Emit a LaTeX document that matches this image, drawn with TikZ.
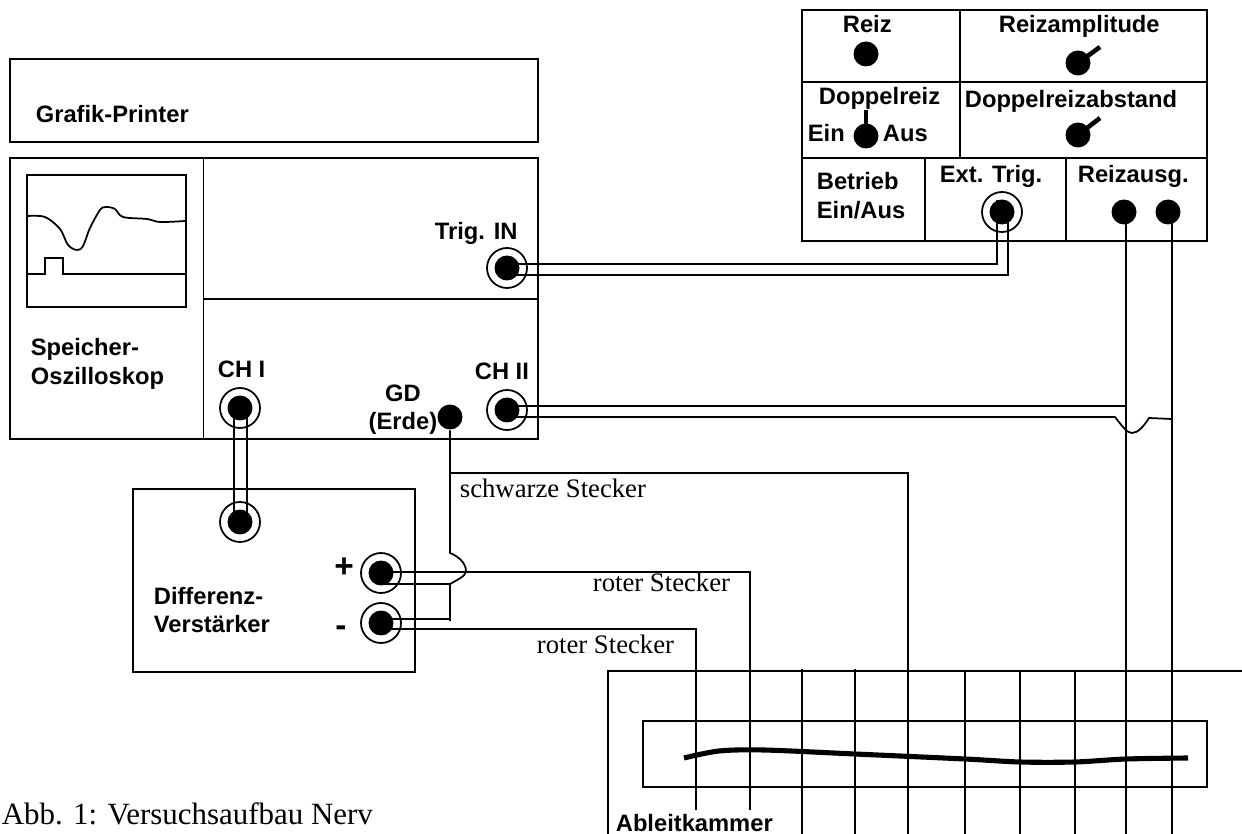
\documentclass[tikz,border=0pt]{standalone}
\usepackage{fontspec}
\setmainfont{Liberation Sans}
\newfontfamily\serifkapt{Liberation Serif}
\usetikzlibrary{calc}

\begin{document}
\begin{tikzpicture}[
        x=0.02cm, y=-0.02cm,
        line width=1pt,
        jack/.style={circle, draw=black, fill=white, inner sep=0pt, minimum size=0.8cm},
        knob/.style={circle, fill=black, inner sep=0pt, minimum size=0.5cm},
        label_txt/.style={anchor=base west, inner sep=0pt, font=\fontsize{13.5}{16}\selectfont\bfseries},
        plug_txt/.style={anchor=base west, inner sep=0pt, font=\fontsize{15.2}{18}\selectfont\serifkapt},
        sign_txt/.style={anchor=center, inner sep=0pt, font=\fontsize{19}{21}\selectfont\bfseries},
        wire/.style={draw, black},
        pointer/.style={draw, black, line width=2.6pt}
    ]
    \useasboundingbox (0,0) rectangle (1242,834);

    % ================= GRAFIK-PRINTER =================
    \draw (10,59) rectangle (538,142);
    \node[label_txt] (printerlbl) at (35,123) {Grafik-Printer};

    % ================= OSZILLOSKOP =================
    \draw (10,158) rectangle (538,439);
    \draw (203.5,158) -- (203.5,439);
    \draw (203.5,299) -- (538,299);
    \draw (27,175) rectangle (186,307);
    \draw (27,274) -- (45,274) -- (45,258) -- (63,258) -- (63,274) -- (186,274);
    \draw plot[smooth, tension=0.55] coordinates {(28,216) (45,217) (60,229) (68,245) (77,250) (83,246) (90,228) (100,210) (106,207) (115,209) (123,217) (147,219) (160,222) (185,221)};

    \node[label_txt] (osclbl1) at (30,356) {Speicher-};
    \node[label_txt] (osclbl2) at (30,385) {Oszilloskop};
    \node[label_txt] (triglbl) at (434,240) {Trig. IN};
    \node[label_txt] (ch1lbl) at (217,378) {CH I};
    \node[label_txt] (ch2lbl) at (474,380) {CH II};
    \node[label_txt, anchor=base] (gdlbl) at (403,402) {GD};
    \node[label_txt, anchor=base] (erdelbl) at (403,430) {(Erde)};

    \node[jack] (trigjack) at (507,268) {};
    \node[jack] (ch2jack) at (507,410) {};
    \node[jack] (ch1jack) at (240,408) {};

    % ================= DIFFERENZ-VERSTAERKER =================
    \draw (133,489) rectangle (415,672);
    \node[label_txt] (amplbl1) at (153,605) {Differenz-};
    \node[label_txt] (amplbl2) at (153,633) {Verstärker};
    \node[sign_txt] (pluslbl) at (344,568) {+};
    \node[sign_txt] (minuslbl) at (341,631) {-};

    \node[jack] (ampjack) at (240,522) {};
    \node[jack] (plusjack) at (381,573) {};
    \node[jack] (minusjack) at (381,623) {};

    % ================= REIZGERAET =================
    \draw (802,10) rectangle (1207,241);
    \draw (802,82) -- (1207,82);
    \draw (802,158) -- (1207,158);
    \draw (960,10) -- (960,158);
    \draw (925,158) -- (925,241);
    \draw (1066,158) -- (1066,241);

    \node[label_txt] (reizlbl) at (842,33) {Reiz};
    \node[label_txt] (amplitudelbl) at (998,33) {Reizamplitude};
    \node[label_txt] (doppellbl) at (818,105) {Doppelreiz};
    \node[label_txt] (abstandlbl) at (964,108) {Doppelreizabstand};
    \node[label_txt] (einlbl) at (807,142) {Ein};
    \node[label_txt] (auslbl) at (882,142) {Aus};
    \node[label_txt] (betrieblbl1) at (816,190) {Betrieb};
    \node[label_txt] (betrieblbl2) at (816,219) {Ein/Aus};
    \node[label_txt] (extlbl) at (939,183) {Ext. Trig.};
    \node[label_txt] (ausglbl) at (1077,183) {Reizausg.};

    \node[jack] (extjack) at (1002,212) {};

    % ================= ABLEITKAMMER =================
    \draw (1242,671) -- (608,671) -- (608,834);
    \draw (643,721) rectangle (1207,787);
    \draw[line width=2.9pt] plot[smooth, tension=0.5] coordinates {(684,758) (719,751) (764,750) (855,754) (965,759) (1020,762) (1075,762) (1126,759) (1188,758)};
    \foreach \xpin in {802,855} {
        \draw (\xpin,669) -- (\xpin,834);
    }
    \foreach \xpin in {965,1020,1075} {
        \draw (\xpin,671) -- (\xpin,834);
    }
    \node[label_txt] (kammerlbl) at (615,831) {Ableitkammer};

    % ================= KABEL =================
    \coordinate (pinblack) at (908,834);
    \coordinate (pinplus) at (750,810);
    \coordinate (pinminus) at (696,810);
    \coordinate (pinreiz1) at (1126,834);
    \coordinate (pinreiz2) at (1172,834);

    % Reizausgang
    \node[knob] (reiz1) at (1124,212) {};
    \node[knob] (reiz2) at (1168,212) {};
    \path[wire] (1126,212) -- (pinreiz1);
    \path[wire] (1172,212) -- (pinreiz2);

    % Trigger
    \path[wire] ($(trigjack)+(0,-4)$) -| ($(extjack)+(-5,-12)$);
    \path[wire] ($(trigjack)+(0,7)$) -| ($(extjack)+(6,0)$);

    % CH I
    \path[wire] ($(ch1jack)+(-6,0)$) -- ($(ampjack)+(-6,0)$);
    \path[wire] ($(ch1jack)+(7,0)$) -- ($(ampjack)+(7,0)$);

    % CH II mit Sprung
    \path[wire] ($(ch2jack)+(0,-4)$) -- (1126,406);
    \path[wire] ($(ch2jack)+(0,7)$) -- (1115,417) .. controls (1122,426) and (1127,433) .. (1132,433)
        .. controls (1138,433) and (1144,426) .. (1149,418) -- (1172,419);

    % Erde
    \node[knob] (gdknob) at (450,417) {};
    \path[wire] (gdknob) -- (450,553) .. controls (458,556) and (466,563) .. (466,571)
        .. controls (466,576) and (457,580) .. (450,584) -- (450,621);
    \path[wire] (450,473) -| (pinblack);
    \path[wire] ($(plusjack)+(0,11)$) -- (450,584);
    \path[wire] ($(minusjack)+(0,-4)$) -- (450,619);

    % rote Stecker
    \path[wire] ($(plusjack)+(0,-1)$) -| (pinplus);
    \path[wire] ($(minusjack)+(0,6)$) -| (pinminus);
    \node[plug_txt] (schwarzlbl) at (459,498) {schwarze Stecker};
    \node[plug_txt] (rot1lbl) at (592,592) {roter Stecker};
    \node[plug_txt] (rot2lbl) at (536,654) {roter Stecker};

    % ================= KNOEPFE =================
    \node[knob] (trigknob) at (507,268) {};
    \node[knob] (ch2knob) at (507,410) {};
    \node[knob] (ch1knob) at (240,408) {};
    \node[knob] (ampknob) at (240,522) {};
    \node[knob] (plusknob) at (381,573) {};
    \node[knob] (minusknob) at (381,623) {};
    \node[knob] (extknob) at (1002,212) {};
    \node[knob] (reizknob) at (866,54) {};
    \node[knob] (amplitudeknob) at (1078,63) {};
    \node[knob] (abstandknob) at (1078,135) {};
    \node[knob] (doppelknob) at (866,136) {};
    \path[pointer] (amplitudeknob.center) -- (1100,47);
    \path[pointer] (abstandknob.center) -- (1100,118);
    \path[pointer, line width=2pt] (doppelknob.center) -- (866,110);

    % ================= BILDUNTERSCHRIFT =================
    \node[plug_txt, font=\fontsize{17.6}{20}\selectfont\serifkapt] (caption) at (1,825) {Abb. 1: Versuchsaufbau Nerv};
\end{tikzpicture}
\end{document}
